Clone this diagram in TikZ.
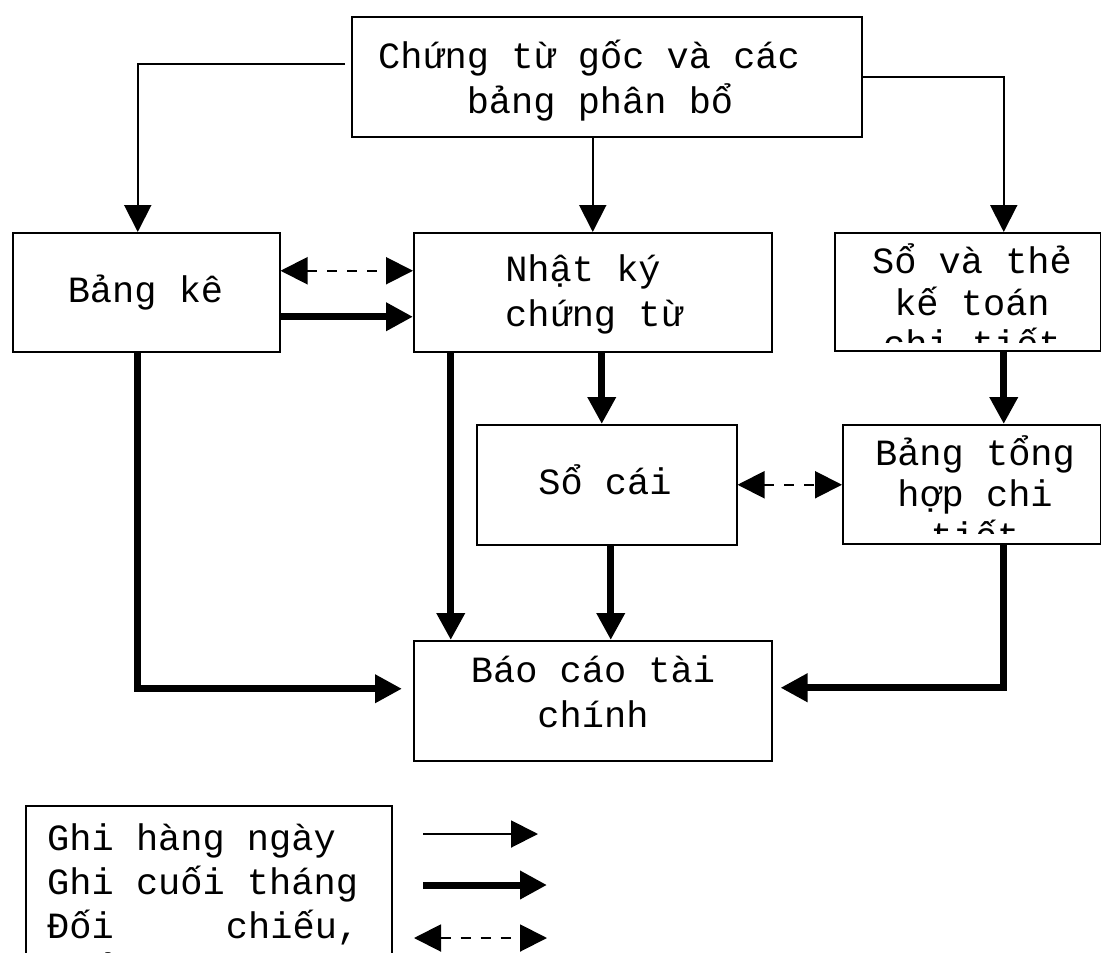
\documentclass[tikz,border=0pt]{standalone}
\usepackage{fontspec}
\newfontfamily\diafont{Liberation Mono}
\newcommand\diatext{\diafont\fontsize{37}{45}\selectfont\spaceskip\fontdimen2\font\relax}
\newcommand\diatight{\diafont\fontsize{37}{41.5}\selectfont\spaceskip\fontdimen2\font\relax}
\usetikzlibrary{arrows.meta}
\begin{document}
\begin{tikzpicture}[x=1pt,y=-1pt,
  box/.style={draw, line width=1.5pt, rectangle, inner sep=0pt, anchor=north west},
  txt/.style={font=\diatext, align=center, inner sep=0pt},
  tighttxt/.style={txt, font=\diatight},
  tip/.tip={Triangle[length=27pt,width=27pt]},
  thinarr/.style={line width=2pt, -tip},
  thickarr/.style={line width=7pt, -tip},
  dasharr/.style={line width=2pt, dash pattern=on 10pt off 10pt, tip-tip}]

\clip (0,0) rectangle (1101,953);
\fill[white] (0,0) rectangle (1101,953);

% boxes
\node[box, minimum width=510pt, minimum height=120pt] (top) at (351,16) {};
\node[box, minimum width=267pt, minimum height=119pt] (bk) at (12,232) {};
\node[box, minimum width=358pt, minimum height=119pt] (nk) at (413,232) {};
\node[box, minimum width=266pt, minimum height=118pt] (st) at (834,232) {};
\node[box, minimum width=260pt, minimum height=120pt] (sc) at (476,424) {};
\node[box, minimum width=258pt, minimum height=119pt] (th) at (842,424) {};
\node[box, minimum width=358pt, minimum height=120pt] (bc) at (413,640) {};
\node[box, minimum width=366pt, minimum height=200pt] (legend) at (25,805) {};

% texts (centred nodes sit on the baseline of their last line)
\node[txt, anchor=base] (toptext) at (600,113) {Chứng từ gốc và các\kern22pt\\bảng phân bổ};
\node[txt, anchor=base] (bktext) at (145.5,302) {Bảng kê};
\node[txt, anchor=base] (nktext) at (594,326) {Nhật ký\kern22pt\\chứng từ};
\begin{scope}
  \clip (834,232) rectangle (1100,342);
  \node[tighttxt, anchor=base] (sttext) at (972,356.5) {Sổ và thẻ\\kế toán\\chi tiết};
\end{scope}
\node[txt, anchor=base] (sctext) at (605,494) {Sổ cái};
\begin{scope}
  \clip (842,424) rectangle (1100,533);
  \node[tighttxt, anchor=base] (thtext) at (975,548) {Bảng tổng\\hợp chi\\tiết};
\end{scope}
\node[txt, anchor=base] (bctext) at (593,727) {Báo cáo tài\\chính};
% legend text: a fixed-width block, placed on its first baseline
\node[txt, font=\diafont\fontsize{37}{44}\selectfont, align=justify, text width=312pt,
      anchor=base west] (legtext) at (47,850)
  {\spaceskip\fontdimen2\font Ghi hàng ngày\\Ghi cuối tháng\\Đối\hfill chiếu,\\kiểm tra};

% daily entries
\draw[thinarr, shorten <=6pt] ([yshift=12.5pt]top.west) -| ([xshift=-8.5pt]bk.north);
\draw[thinarr] (top.south -| nk.north) -- (nk.north);
\draw[thinarr] (top.east) -| ([xshift=36pt]st.north);

% cross checks
\draw[dasharr] ([yshift=21.5pt]bk.east) -- ([yshift=21.5pt]nk.west);
\draw[dasharr] (sc.east) -- (sc.east -| th.west);

% month-end entries
\draw[thickarr] ([yshift=-24.5pt]bk.east) -- ([yshift=-24.5pt]nk.west);
\draw[thickarr, shorten >=11pt] ([xshift=-8.5pt]bk.south) |- ([yshift=12pt]bc.west);
\draw[thickarr] ([xshift=-142pt]nk.south) -- ([xshift=-142pt]bc.north);
\draw[thickarr] ([xshift=9pt]nk.south) -- ([xshift=9pt]nk.south |- sc.north);
\draw[thickarr] ([xshift=36pt]st.south) -- ([xshift=36pt]st.south |- th.north);
\draw[thickarr] ([xshift=4pt]sc.south) -- ([xshift=4pt]sc.south |- bc.north);
\draw[thickarr, shorten >=8pt] ([xshift=32pt]th.south) |- ([yshift=13pt]bc.east);

% legend arrows
\coordinate (l1a) at (423,834); \coordinate (l1b) at (538,834);
\coordinate (l2a) at (423,885); \coordinate (l2b) at (547,885);
\coordinate (l3a) at (414,938); \coordinate (l3b) at (547,938);
\draw[thinarr] (l1a) -- (l1b);
\draw[thickarr] (l2a) -- (l2b);
\draw[dasharr] (l3a) -- (l3b);
\end{tikzpicture}
\end{document}
